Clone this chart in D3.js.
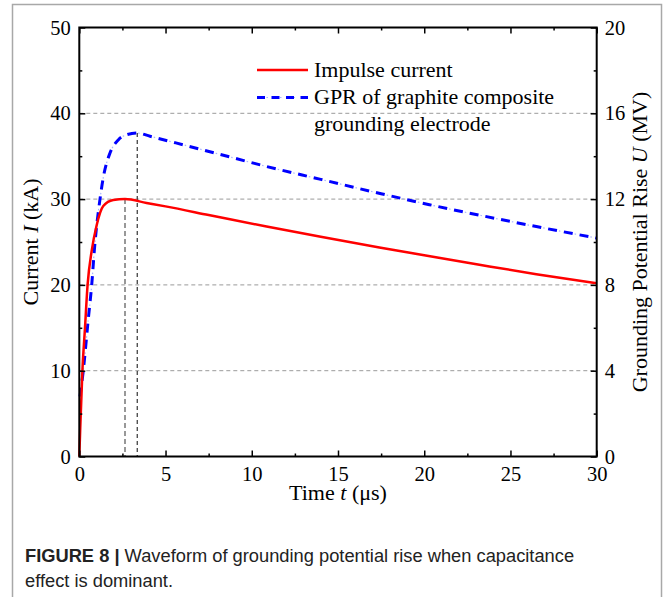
<!DOCTYPE html>
<html>
<head>
<meta charset="utf-8">
<script src="https://cdn.jsdelivr.net/npm/d3@7"></script>
<style>
  body { margin: 0; background: #fff; }
  svg { display: block; }
</style>
</head>
<body>
<svg width="665" height="597"></svg>
<script>
(function () {

  // tick values
  var timeTicks = [0, 5, 10, 15, 20, 25, 30]
  var timeMinor = [2.5, 7.5, 12.5, 17.5, 22.5, 27.5]
  var currentTicks = [0, 10, 20, 30, 40, 50]
  var currentMinor = [5, 15, 25, 35, 45]
  var gprTicks = [0, 4, 8, 12, 16, 20]
  var gprMinor = [2, 6, 10, 14, 18]

  // impulse current, kA
  var impulseT = [0, 0.05, 0.18, 0.33, 0.48, 0.72, 1.0, 1.39, 1.97, 2.65, 3.9, 5, 7.5, 10.86, 14, 17.4, 20, 23.2, 26.5, 30]
  var impulseI = [0, 3, 10, 15, 20, 24, 26.9, 29.2, 29.9, 30, 29.55, 29.15, 28.15, 26.8, 25.6, 24.35, 23.45, 22.35, 21.25, 20.2]

  // GPR of graphite composite grounding electrode, MV
  var gprT = [0.04, 0.23, 0.52, 0.73, 0.87, 1.2, 1.39, 1.78, 2.26, 2.75, 3.36, 4.1, 5.6, 8, 10.86, 14, 17.5, 20.3, 23.2, 26.5, 30]
  var gprU = [2.8, 4.0, 6.4, 8.1, 9.6, 12.0, 13.0, 14.15, 14.76, 15.0, 15.08, 14.93, 14.62, 14.12, 13.52, 12.92, 12.25, 11.74, 11.25, 10.72, 10.18]

  // peak markers: time, value on its own axis
  var peakCurrent = { t: 2.65, v: 30 }
  var peakGpr = { t: 3.36, v: 15.08 }

  var legendLabels = ['Impulse current', 'GPR of graphite composite', 'grounding electrode']

  var serif = '"Liberation Serif", "Times New Roman", serif'
  var svg = d3.select('svg')

  var left = 79.3, right = 596.7, top = 27.5, bottom = 456.5

  var x = d3.scaleLinear().domain([0, 30]).range([left, right])
  var yI = d3.scaleLinear().domain([0, 50]).range([bottom, top])
  var yU = d3.scaleLinear().domain([0, 20]).range([bottom, top])

  // outer grey frame of the figure
  svg.append('rect')
    .attr('x', 12.5).attr('y', 4.5)
    .attr('width', 649).attr('height', 640)
    .attr('fill', 'none').attr('stroke', '#a8a8a8').attr('stroke-width', 1.5)

  // horizontal grid
  svg.append('g').selectAll('line')
    .data([10, 20, 30, 40])
    .enter().append('line')
    .attr('x1', left).attr('x2', right)
    .attr('y1', d => yI(d)).attr('y2', d => yI(d))
    .attr('stroke', '#9a9a9a').attr('stroke-width', 1)
    .attr('stroke-dasharray', '4,3')

  // vertical drop lines from the peaks
  svg.append('line')
    .attr('x1', x(peakCurrent.t)).attr('x2', x(peakCurrent.t))
    .attr('y1', yI(peakCurrent.v)).attr('y2', bottom)
    .attr('stroke', '#777').attr('stroke-width', 1.5)
    .attr('stroke-dasharray', '5,3')
  svg.append('line')
    .attr('x1', x(peakGpr.t)).attr('x2', x(peakGpr.t))
    .attr('y1', yU(peakGpr.v)).attr('y2', bottom)
    .attr('stroke', '#333').attr('stroke-width', 1.2)
    .attr('stroke-dasharray', '4,3')

  // curves
  var impulse = impulseT.map((t, i) => [t, impulseI[i]])
  var gpr = gprT.map((t, i) => [t, gprU[i]])

  var lineI = d3.line().x(d => x(d[0])).y(d => yI(d[1])).curve(d3.curveMonotoneX)
  var lineU = d3.line().x(d => x(d[0])).y(d => yU(d[1])).curve(d3.curveMonotoneX)

  svg.append('path')
    .attr('d', lineU(gpr))
    .attr('fill', 'none').attr('stroke', '#aab4ff').attr('stroke-width', 1.2)
    .attr('stroke-dasharray', '1.5,14.5').attr('stroke-dashoffset', -11)
  svg.append('path')
    .attr('d', lineU(gpr))
    .attr('fill', 'none').attr('stroke', '#0000ff').attr('stroke-width', 3)
    .attr('stroke-dasharray', '9,7')

  svg.append('path')
    .attr('d', lineI(impulse))
    .attr('fill', 'none').attr('stroke', '#ff0000').attr('stroke-width', 2.5)

  // axes: ticks point inward
  function styleAxis(g, size) {
    g.select('.domain').remove()
    g.selectAll('line').attr('stroke', '#000').attr('stroke-width', 1.5)
    g.selectAll('text').attr('font-family', serif).attr('font-size', size).attr('fill', '#000')
  }

  svg.append('g').attr('transform', 'translate(0,' + bottom + ')')
    .call(d3.axisBottom(x).tickValues(timeTicks).tickSize(-6).tickPadding(9.5).tickFormat(d3.format('d')))
    .call(g => styleAxis(g, 20.5))
  svg.append('g').attr('transform', 'translate(0,' + bottom + ')')
    .call(d3.axisBottom(x).tickValues(timeMinor).tickSize(-3).tickFormat(''))
    .call(g => styleAxis(g, 20.5))
  svg.append('g').attr('transform', 'translate(0,' + top + ')')
    .call(d3.axisTop(x).tickValues(timeTicks).tickSize(-6).tickFormat(''))
    .call(g => styleAxis(g, 20.5))
  svg.append('g').attr('transform', 'translate(0,' + top + ')')
    .call(d3.axisTop(x).tickValues(timeMinor).tickSize(-3).tickFormat(''))
    .call(g => styleAxis(g, 20.5))

  svg.append('g').attr('transform', 'translate(' + left + ',0)')
    .call(d3.axisLeft(yI).tickValues(currentTicks).tickSize(-6).tickPadding(8.5).tickFormat(d3.format('d')))
    .call(g => styleAxis(g, 20.5))
  svg.append('g').attr('transform', 'translate(' + left + ',0)')
    .call(d3.axisLeft(yI).tickValues(currentMinor).tickSize(-3).tickFormat(''))
    .call(g => styleAxis(g, 20.5))

  svg.append('g').attr('transform', 'translate(' + right + ',0)')
    .call(d3.axisRight(yU).tickValues(gprTicks).tickSize(-6).tickPadding(8).tickFormat(d3.format('d')))
    .call(g => styleAxis(g, 20.5))
  svg.append('g').attr('transform', 'translate(' + right + ',0)')
    .call(d3.axisRight(yU).tickValues(gprMinor).tickSize(-3).tickFormat(''))
    .call(g => styleAxis(g, 20.5))

  // plot frame
  svg.append('rect')
    .attr('x', left).attr('y', top)
    .attr('width', right - left).attr('height', bottom - top)
    .attr('fill', 'none').attr('stroke', '#000').attr('stroke-width', 2)

  // axis titles
  var xt = svg.append('text')
    .attr('x', (left + right) / 2).attr('y', 500)
    .attr('text-anchor', 'middle')
    .attr('font-family', serif).attr('font-size', 22)
  xt.append('tspan').text('Time ')
  xt.append('tspan').attr('font-style', 'italic').text('t')
  xt.append('tspan').text(' (\u03bcs)')

  var yt = svg.append('text')
    .attr('transform', 'translate(38,' + (top + bottom) / 2 + ') rotate(-90)')
    .attr('text-anchor', 'middle')
    .attr('font-family', serif).attr('font-size', 22)
  yt.append('tspan').text('Current ')
  yt.append('tspan').attr('font-style', 'italic').text('I')
  yt.append('tspan').text(' (kA)')

  var ut = svg.append('text')
    .attr('transform', 'translate(647,' + (top + bottom) / 2 + ') rotate(-90)')
    .attr('text-anchor', 'middle')
    .attr('font-family', serif).attr('font-size', 22)
  ut.append('tspan').text('Grounding Potential Rise ')
  ut.append('tspan').attr('font-style', 'italic').text('U')
  ut.append('tspan').text(' (MV)')

  // legend
  var lg = svg.append('g')
  lg.append('line')
    .attr('x1', 257).attr('x2', 308).attr('y1', 70).attr('y2', 70)
    .attr('stroke', '#ff0000').attr('stroke-width', 2.5)
  lg.append('line')
    .attr('x1', 257).attr('x2', 308).attr('y1', 97.5).attr('y2', 97.5)
    .attr('stroke', '#aab4ff').attr('stroke-width', 1.2)
    .attr('stroke-dasharray', '1.5,12').attr('stroke-dashoffset', -9.5)
  lg.append('line')
    .attr('x1', 257).attr('x2', 308).attr('y1', 97.5).attr('y2', 97.5)
    .attr('stroke', '#0000ff').attr('stroke-width', 3)
    .attr('stroke-dasharray', '8,6.5')
  lg.selectAll('text.leg')
    .data(legendLabels)
    .enter().append('text')
    .attr('class', 'leg')
    .attr('x', 314)
    .attr('y', (d, i) => [77, 104, 131][i])
    .attr('font-family', serif).attr('font-size', 22)
    .text(d => d)

  // caption
  var capFont = '"Liberation Sans", Arial, sans-serif'
  var cap = svg.append('text')
    .attr('x', 25).attr('y', 562)
    .attr('font-family', capFont).attr('font-size', 18.3)
    .attr('fill', '#222')
  cap.append('tspan').attr('font-weight', 'bold').text('FIGURE 8 | ')
  cap.append('tspan').text('Waveform of grounding potential rise when capacitance')
  svg.append('text')
    .attr('x', 25).attr('y', 587)
    .attr('font-family', capFont).attr('font-size', 18.3)
    .attr('fill', '#222')
    .text('effect is dominant.')

})()
</script>
</body>
</html>
